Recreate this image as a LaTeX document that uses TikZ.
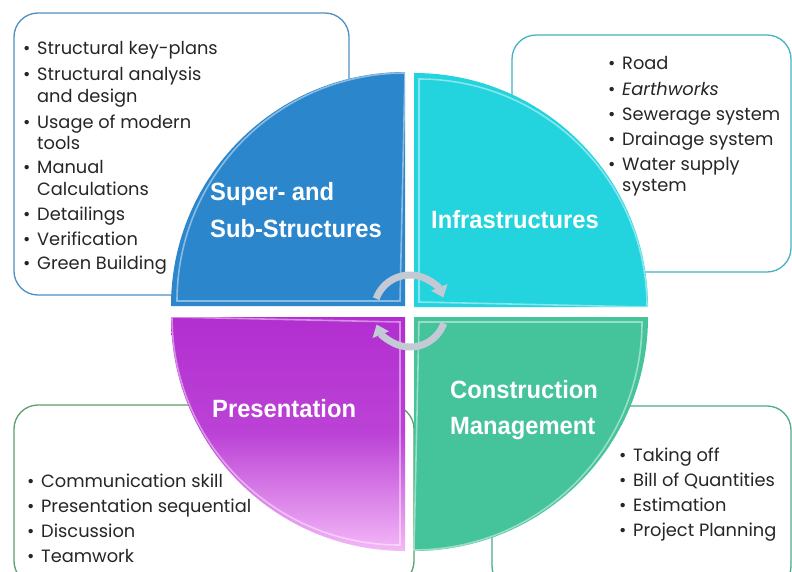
\documentclass[tikz,border=0pt]{standalone}
\usepackage{fontspec}
\setmainfont{Poppins}
\newfontfamily\titlefont[FakeStretch=0.95]{Liberation Sans}
\usetikzlibrary{arrows.meta}
\definecolor{qblue}{HTML}{2B86CC}
\definecolor{qteal}{HTML}{23D3DD}
\definecolor{qpurpleA}{HTML}{B22ED0}
\definecolor{qpurpleB}{HTML}{F4B8F8}
\definecolor{qgreen}{HTML}{45C39B}
\definecolor{bxblue}{HTML}{4F8FC0}
\definecolor{bxteal}{HTML}{43B3C3}
\definecolor{bxgreen}{HTML}{5E9E6E}
\definecolor{bxgreen2}{HTML}{4AAA8A}
\definecolor{txt}{HTML}{262626}
\definecolor{arrowc}{HTML}{C3CAD6}
\newcommand\bul{\makebox[14pt][l]{\textbullet}}
\newcommand\ind{\hspace*{14pt}}
\tikzset{
  bl/.style={anchor=base west, inner sep=0pt, text=txt, font=\fontsize{17.8}{22}\selectfont},
  ttl/.style={anchor=base west, inner sep=0pt, text=white, font=\titlefont\bfseries\fontsize{25}{30}\selectfont},
  infobox/.style={rounded corners=24pt, line width=1.3pt, fill=white},
  bevel/.style={draw=white, draw opacity=0.45, line width=1.6pt},
  cycarrow/.style={line width=7pt, draw=arrowc, -{Triangle[width=17pt,length=11pt]}},
}
\begin{document}
\begin{tikzpicture}[x=1pt, y=-1pt]
\useasboundingbox (0,0) rectangle (792,571);
\clip (0,0) rectangle (792,571);
\fill[white] (0,0) rectangle (792,571);

% info boxes (behind)
\draw[infobox, draw=bxblue] (14,13) rectangle (349,295);
\draw[infobox, draw=bxteal] (512,35) rectangle (791,272);
\draw[infobox, draw=bxgreen] (14,405) rectangle (414,585);
\draw[infobox, draw=bxgreen2] (492,406) rectangle (791,590);

% top-left list
\node[bl] (a1) at (23,54) {\bul Structural key-plans};
\node[bl] (a2) at (23,80) {\bul Structural analysis};
\node[bl] (a2b) at (23,102) {\ind and design};
\node[bl] (a3) at (23,128) {\bul Usage of modern};
\node[bl] (a3b) at (23,149) {\ind tools};
\node[bl] (a4) at (23,173) {\bul Manual};
\node[bl] (a4b) at (23,195) {\ind Calculations};
\node[bl] (a5) at (23,220) {\bul Detailings};
\node[bl] (a6) at (23,245) {\bul Verification};
\node[bl] (a7) at (23,269) {\bul Green Building};

% top-right list
\node[bl] (b1) at (608,69) {\bul Road};
\node[bl] (b2) at (608,95) {\bul \textit{Earthworks}};
\node[bl] (b3) at (608,120) {\bul Sewerage system};
\node[bl] (b4) at (608,145) {\bul Drainage system};
\node[bl] (b5) at (608,170) {\bul Water supply};
\node[bl] (b5b) at (608,191) {\ind system};

% bottom-left list
\node[bl] (c1) at (27,487) {\bul Communication skill};
\node[bl] (c2) at (27,512) {\bul Presentation sequential};
\node[bl] (c3) at (27,537) {\bul Discussion};
\node[bl] (c4) at (27,562) {\bul Teamwork};

% bottom-right list
\node[bl] (d1) at (619,461) {\bul Taking off};
\node[bl] (d2) at (619,486) {\bul Bill of Quantities};
\node[bl] (d3) at (619,511) {\bul Estimation};
\node[bl] (d4) at (619,536) {\bul Project Planning};

% quadrants
\fill[qblue] (405,306) -- (171,306) arc[start angle=180, end angle=270, radius=234] -- cycle;
\fill[qteal] (414,307) -- (414,73) arc[start angle=270, end angle=360, radius=234] -- cycle;
\fill[qgreen] (414,317) -- (648,317) arc[start angle=0, end angle=90, radius=234] -- cycle;
\shade[top color=qpurpleA, bottom color=qpurpleB, middle color=qpurpleA!85!qpurpleB]
  (405,317) -- (405,551) arc[start angle=90, end angle=180, radius=234] -- cycle;

% bevel highlights
\draw[bevel] (177,301) arc[start angle=180, end angle=270, radius=228] -- (400,301) -- cycle;
\draw[bevel] (419,79) arc[start angle=270, end angle=360, radius=228] -- (419,302) -- cycle;
\draw[bevel] (642,322) arc[start angle=0, end angle=90, radius=228] -- (419,322) -- cycle;
\draw[bevel] (400,545) arc[start angle=90, end angle=180, radius=228] -- (400,322) -- cycle;

% cycle arrows
\coordinate (cc) at (410,311);
\draw[cycarrow] ([shift={(200:36)}]cc) arc[start angle=200, end angle=338, radius=36];
\draw[cycarrow] ([shift={(20:36)}]cc) arc[start angle=20, end angle=158, radius=36];

% titles
\node[ttl] (t1a) at (210,200) {Super- and};
\node[ttl] (t1b) at (210,237) {Sub-Structures};
\node[ttl] (t2) at (431,228) {Infrastructures};
\node[ttl] (t3) at (212,417) {Presentation};
\node[ttl] (t4a) at (450,398) {Construction};
\node[ttl] (t4b) at (450,434) {Management};
\end{tikzpicture}
\end{document}
